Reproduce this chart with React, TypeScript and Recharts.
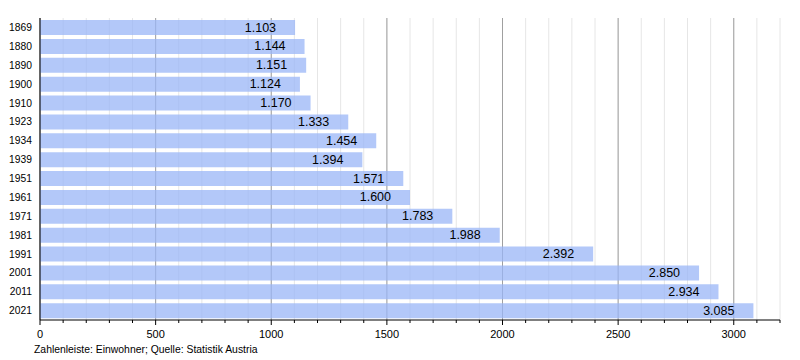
import React from "react";
import { BarChart, Bar, XAxis, YAxis, CartesianGrid, LabelList } from "recharts";

const years = ["1869", "1880", "1890", "1900", "1910", "1923", "1934", "1939", "1951", "1961", "1971", "1981", "1991", "2001", "2011", "2021"];
const population = [1103, 1144, 1151, 1124, 1170, 1333, 1454, 1394, 1571, 1600, 1783, 1988, 2392, 2850, 2934, 3085];
const minorTicks = [0, 100, 200, 300, 400, 500, 600, 700, 800, 900, 1000, 1100, 1200, 1300, 1400, 1500, 1600, 1700, 1800, 1900, 2000, 2100, 2200, 2300, 2400, 2500, 2600, 2700, 2800, 2900, 3000, 3100, 3200];
const majorTicks = [0, 500, 1000, 1500, 2000, 2500, 3000];
const footer = "Zahlenleiste: Einwohner; Quelle: Statistik Austria";

const data = years.map((year, i) => ({ year, value: population[i] }));

const fmt = (v: number) => String(v).replace(/\B(?=(\d{3})+(?!\d))/g, ".");

const XTick = (props: any) => {
  const { x, y, payload } = props;
  const major = payload.value % 500 === 0;
  return (
    <g>
      <line x1={x} x2={x} y1={y} y2={y + (major ? 5 : 3)} stroke="#000" />
      {major && (
        <text x={x} y={y + 18} textAnchor="middle" fontSize={11} fill="#000">
          {payload.value}
        </text>
      )}
    </g>
  );
};

const BarLabel = (props: any) => {
  const { x, y, width, height, value } = props;
  return (
    <text x={x + width - 19} y={y + height / 2} textAnchor="end" dominantBaseline="central" fontSize={12.5} fill="#000">
      {fmt(value)}
    </text>
  );
};

export default function App() {
  return (
    <div style={{ position: "absolute", left: 0, top: 0, width: 800, height: 360, background: "#fff", fontFamily: "'Liberation Sans', Arial, sans-serif" }}>
      <BarChart width={800} height={360} data={data} layout="vertical" margin={{ top: 18, right: 20, bottom: 10, left: 0 }} barCategoryGap="11%">
        <CartesianGrid horizontal={false} verticalValues={minorTicks} stroke="#e6e6e6" />
        <CartesianGrid horizontal={false} verticalValues={majorTicks} stroke="#a0a0a0" />
        <XAxis
          type="number"
          domain={[0, 3200]}
          ticks={minorTicks}
          interval={0}
          height={30}
          tickLine={false}
          tickSize={0}
          tickMargin={0}
          tick={<XTick />}
          axisLine={{ stroke: "#000" }}
        />
        <YAxis
          type="category"
          dataKey="year"
          width={40}
          interval={0}
          tickLine={false}
          tickMargin={2}
          tick={{ fontSize: 10.3, fill: "#000" }}
          axisLine={{ stroke: "#000" }}
        />
        <Bar dataKey="value" fill="#9ab6f7" fillOpacity={0.75} isAnimationActive={false}>
          <LabelList dataKey="value" content={<BarLabel />} />
        </Bar>
      </BarChart>
      <div style={{ position: "absolute", left: 34, top: 344, fontSize: 10.4, color: "#000", whiteSpace: "nowrap" }}>{footer}</div>
    </div>
  );
}
